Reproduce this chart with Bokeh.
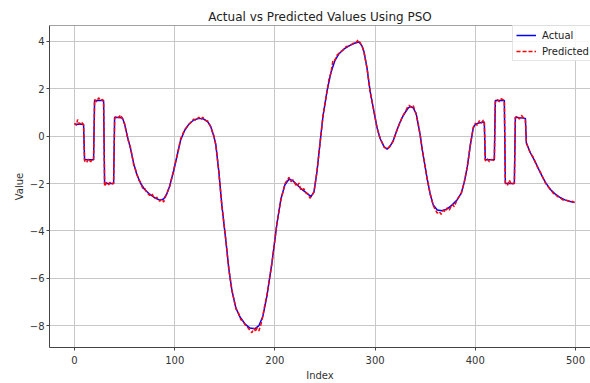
from bokeh.plotting import figure
from bokeh.models import Legend, LegendItem, FixedTicker, Range1d, Span
from bokeh.embed import file_html
from bokeh.resources import INLINE

# ---- data ----
actual_idx = [0, 9, 10, 19, 20, 29, 30, 39, 40, 47, 48, 50, 53, 56, 59, 62, 66, 70, 75, 80,
              85, 89, 92, 95, 99, 103, 106, 110, 114, 119, 124, 129, 133, 136, 139, 141, 144,
              147, 151, 154, 157, 161, 165, 170, 175, 180, 184, 188, 192, 197, 202, 206, 210,
              214, 218, 222, 227, 233, 236, 239, 242, 245, 248, 252, 256, 260, 264, 269, 275,
              280, 284, 287, 289, 292, 295, 299, 302, 305, 309, 312, 315, 318, 321, 324, 327,
              330, 333, 335, 338, 341, 343, 345, 347, 349, 352, 355, 358, 362, 367, 372, 377,
              382, 386, 389, 392, 395, 398, 400, 405, 409, 410, 419, 420, 429, 430, 439, 440,
              450, 451, 455, 460, 465, 470, 475, 480, 485, 490, 495, 499]
actual_val = [0.5, 0.5, -1.0, -1.0, 1.5, 1.5, -2.0, -2.0, 0.8, 0.78, 0.75, 0.5, -0.05, -0.55,
              -1.15, -1.6, -2.0, -2.25, -2.45, -2.6, -2.7, -2.65, -2.45, -2.1, -1.45, -0.7,
              -0.15, 0.25, 0.5, 0.68, 0.75, 0.72, 0.6, 0.4, 0.0, -0.35, -1.5, -2.9, -4.4, -5.6,
              -6.5, -7.25, -7.62, -7.92, -8.1, -8.13, -8.0, -7.6, -6.75, -5.35, -3.7, -2.65,
              -2.05, -1.82, -1.88, -2.05, -2.25, -2.45, -2.55, -2.35, -1.5, -0.3, 0.85, 1.9,
              2.7, 3.2, 3.48, 3.68, 3.83, 3.93, 3.97, 3.8, 3.55, 2.85, 1.9, 1.0, 0.35, -0.1,
              -0.45, -0.55, -0.42, -0.2, 0.15, 0.5, 0.78, 1.0, 1.18, 1.25, 1.2, 0.95, 0.5,
              0.05, -0.55, -1.05, -1.8, -2.45, -2.9, -3.12, -3.15, -3.07, -2.9, -2.68, -2.4,
              -1.95, -1.3, -0.4, 0.35, 0.5, 0.57, 0.6, -1.0, -1.0, 1.5, 1.5, -2.0, -2.0, 0.8,
              0.75, -0.3, -0.7, -1.1, -1.55, -1.95, -2.25, -2.45, -2.6, -2.7, -2.76, -2.8]

pred_idx = [0, 2, 3, 5, 7, 9, 10, 12, 14, 16, 18, 19, 20, 22, 24, 26, 28, 29, 30, 32, 34, 36,
            38, 39, 40, 42, 44, 46, 48, 50, 53, 56, 59, 62, 64, 66, 68, 70, 72, 75, 77, 80,
            82, 85, 87, 89, 92, 95, 99, 103, 106, 110, 114, 117, 119, 121, 124, 126, 128,
            131, 133, 136, 139, 141, 144, 147, 151, 154, 157, 161, 164, 166, 168, 170, 173,
            175, 177, 179, 181, 182, 184, 186, 188, 190, 192, 197, 202, 206, 210, 212, 214,
            216, 218, 220, 222, 224, 226, 229, 231, 233, 235, 237, 239, 242, 245, 248, 252,
            254, 256, 258, 260, 262, 264, 266, 269, 271, 273, 275, 277, 279, 281, 283, 285,
            287, 289, 292, 295, 299, 302, 305, 309, 312, 315, 318, 321, 324, 327, 330, 332,
            334, 336, 338, 341, 343, 345, 347, 349, 352, 355, 358, 360, 362, 364, 366, 368,
            370, 372, 374, 377, 379, 382, 386, 389, 392, 395, 398, 400, 402, 404, 406, 408,
            409, 410, 412, 414, 416, 419, 420, 422, 424, 426, 429, 430, 432, 434, 436, 439,
            440, 442, 444, 446, 448, 450, 451, 455, 458, 460, 462, 465, 468, 470, 472, 475,
            478, 480, 482, 485, 487, 490, 492, 495, 497, 499]
pred_val = [0.55, 0.45, 0.7, 0.5, 0.6, 0.45, -1.05, -1.12, -0.95, -1.08, -0.98, -1.0, 1.55,
            1.45, 1.62, 1.5, 1.55, 1.45, -2.12, -1.95, -2.05, -1.92, -2.02, -1.98, 0.75, 0.85,
            0.78, 0.9, 0.7, 0.52, -0.1, -0.5, -1.2, -1.55, -1.85, -1.95, -2.2, -2.2, -2.38,
            -2.5, -2.42, -2.65, -2.58, -2.75, -2.65, -2.78, -2.42, -2.12, -1.42, -0.72, -0.1,
            0.28, 0.48, 0.62, 0.72, 0.66, 0.8, 0.7, 0.8, 0.66, 0.64, 0.38, 0.02, -0.38, -1.48,
            -2.92, -4.38, -5.62, -6.48, -7.28, -7.5, -7.75, -7.78, -7.95, -8.08, -8.2, -8.3,
            -8.1, -8.25, -8.08, -8.22, -7.95, -7.58, -7.1, -6.72, -5.38, -3.68, -2.68, -2.02,
            -1.86, -1.74, -1.92, -1.84, -2.0, -2.12, -1.98, -2.3, -2.22, -2.4, -2.44, -2.62,
            -2.5, -2.36, -1.48, -0.32, 0.86, 1.88, 2.42, 2.68, 3.22, 3.2, 3.42, 3.5, 3.58,
            3.66, 3.78, 3.8, 3.86, 3.88, 3.96, 3.94, 4.06, 3.95, 3.8, 3.52, 2.86, 1.88, 1.02,
            0.33, -0.08, -0.46, -0.55, -0.42, -0.22, 0.17, 0.48, 0.8, 1.02, 1.2, 1.3, 1.22,
            1.3, 0.92, 0.52, 0.03, -0.57, -1.03, -1.82, -2.43, -2.92, -3.1, -3.25, -3.18,
            -3.3, -3.12, -3.2, -3.02, -3.12, -2.88, -2.98, -2.66, -2.42, -1.93, -1.32, -0.38,
            0.37, 0.55, 0.45, 0.65, 0.55, 0.68, 0.58, -1.05, -0.95, -1.08, -0.98, -1.04, 1.42,
            1.55, 1.45, 1.58, 1.5, -1.95, -2.08, -1.85, -2.05, -1.98, 0.78, 0.85, 0.72, 0.88,
            0.78, 0.7, -0.28, -0.72, -0.9, -1.12, -1.3, -1.52, -1.8, -1.97, -2.1, -2.25, -2.42,
            -2.45, -2.55, -2.6, -2.68, -2.7, -2.72, -2.78, -2.75, -2.8]

x_ticks = [0, 100, 200, 300, 400, 500]
y_ticks = [-8, -6, -4, -2, 0, 2, 4]
y_tick_labels = {t: (str(t) if t >= 0 else "\u2212" + str(-t)) for t in y_ticks}

title_text = "Actual vs Predicted Values Using PSO"
x_label = "Index"
y_label = "Value"

FONT = "DejaVu Sans"
Y_TOP = 4.67

p = figure(width=590, height=383, output_backend="svg", toolbar_location=None,
           x_range=Range1d(-25, 515), y_range=Range1d(-8.92, Y_TOP),
           min_border_left=49, min_border_right=0, min_border_top=25, min_border_bottom=31,
           title=title_text)

p.title.text_font = FONT
p.title.text_font_size = "12px"
p.title.text_font_style = "normal"
p.title.text_color = "#222222"
p.title.align = "center"
p.title.vertical_align = "middle"
p.title.standoff = 2

p.background_fill_color = "white"
p.border_fill_color = "white"
p.outline_line_color = None

for ax in (p.xaxis, p.yaxis):
    ax.major_tick_in = 0
    ax.major_tick_out = 3
    ax.minor_tick_line_color = None
    ax.major_tick_line_color = "#444444"
    ax.axis_line_color = "#444444"
    ax.major_label_text_font = FONT
    ax.major_label_text_font_size = "10px"
    ax.major_label_text_color = "#333333"
    ax.axis_label_text_font = FONT
    ax.axis_label_text_font_size = "10px"
    ax.axis_label_text_font_style = "normal"
    ax.axis_label_text_color = "#333333"

p.xaxis.major_label_standoff = 5
p.yaxis.major_label_standoff = 2
p.xaxis.ticker = FixedTicker(ticks=x_ticks)
p.yaxis.ticker = FixedTicker(ticks=y_ticks)
p.yaxis.major_label_overrides = y_tick_labels
p.xaxis.axis_label = x_label
p.yaxis.axis_label = y_label
p.xaxis.axis_label_standoff = 3
p.yaxis.axis_label_standoff = 2

p.xgrid.ticker = FixedTicker(ticks=x_ticks)
p.ygrid.ticker = FixedTicker(ticks=y_ticks)
for g in (p.xgrid, p.ygrid):
    g.grid_line_color = "#c8c8c8"
    g.grid_line_width = 1

# top spine (the right one lies outside the cropped reference)
p.add_layout(Span(location=Y_TOP, dimension="width", line_color="#444444", line_width=1))

r_act = p.line(actual_idx, actual_val, line_color="blue", line_width=1.5)
r_pred = p.line(pred_idx, pred_val, line_color="red", line_width=1.5, line_dash="4 2")

legend = Legend(items=[LegendItem(label="Actual", renderers=[r_act]),
                       LegendItem(label="Predicted", renderers=[r_pred])],
                location=(463, 286))
legend.label_text_font = FONT
legend.label_text_font_size = "10px"
legend.label_text_color = "#222222"
legend.glyph_width = 20
legend.glyph_height = 12
legend.label_height = 12
legend.label_standoff = 6
legend.spacing = 4
legend.padding = 3
legend.margin = 0
legend.border_line_color = "#cccccc"
legend.background_fill_alpha = 0.85
p.add_layout(legend, "center")

open("out.html", "w").write(file_html(p, INLINE))
